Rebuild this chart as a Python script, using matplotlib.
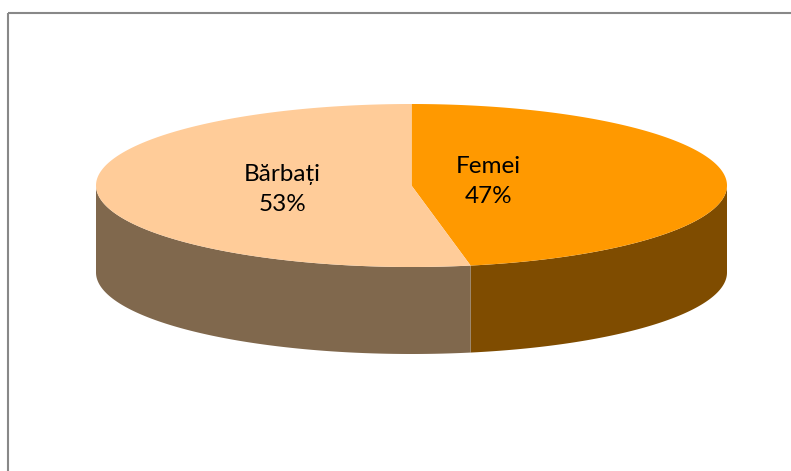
import matplotlib.pyplot as plt
import numpy as np
from matplotlib.patches import Polygon

# data
labels = ['Femei', 'Bărbați']
values = [47, 53]
top_colors = ['#FF9900', '#FFCC99']
side_colors = ['#7F4C00', '#80684D']
label_r = [0.245, 0.41]   # radial position of each label (fraction of rx)

# pie geometry (pixels)
cx, cy = 411.5, 185.5
rx, ry = 315.5, 81.5
depth = 87

def arc(a0, a1, n=200):
    # angles in degrees, clockwise from 12 o'clock
    t = np.radians(np.linspace(a0, a1, n))
    return cx + rx*np.sin(t), cy - ry*np.cos(t)

fig = plt.figure(figsize=(7.91, 4.71), dpi=100)
ax = fig.add_axes([0, 0, 1, 1])
ax.set_xlim(0, 791)
ax.set_ylim(471, 0)
ax.axis('off')

fracs = np.array(values) / float(sum(values))
starts = np.concatenate([[0], np.cumsum(fracs)[:-1]]) * 360
ends = np.cumsum(fracs) * 360

#===== side walls (only the front half, 90..270 deg) ================
for s, e, col in zip(starts, ends, side_colors):
    a0, a1 = max(s, 90), min(e, 270)
    if a1 <= a0:
        continue
    x, y = arc(a0, a1)
    pts = np.column_stack([np.concatenate([x, x[::-1]]),
                           np.concatenate([y, y[::-1] + depth])])
    ax.add_patch(Polygon(pts, closed=True, facecolor=col, edgecolor='none'))

#===== top faces ================
for s, e, col in zip(starts, ends, top_colors):
    x, y = arc(s, e)
    pts = np.column_stack([np.concatenate([[cx], x]), np.concatenate([[cy], y])])
    ax.add_patch(Polygon(pts, closed=True, facecolor=col, edgecolor='none'))

#===== labels ================
for s, e, lab, v, r in zip(starts, ends, labels, values, label_r):
    mid = np.radians((s + e) / 2)
    tx = cx + r*rx*np.sin(mid)
    ty = cy - 0.5*ry*np.cos(mid)
    ax.text(tx, ty, '%s\n%d%%' % (lab, v), ha='center', va='center',
            fontsize=17.5, family=['Lato', 'DejaVu Sans'], linespacing=1.55,
            color='#000000')

# frame (top and left only, rest is cropped)
ax.plot([8, 791], [13, 13], color='#888888', lw=1.5, solid_capstyle='butt')
ax.plot([8, 8], [13, 471], color='#888888', lw=1.5, solid_capstyle='butt')

fig.savefig('out.png', dpi=100)
